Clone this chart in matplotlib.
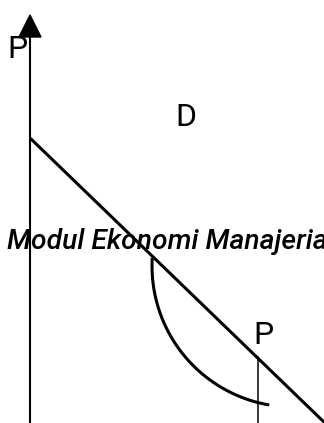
import numpy as np
import matplotlib
matplotlib.use("Agg")
import matplotlib.pyplot as plt
from matplotlib.patches import Polygon

# Diagram geometry (pixel space of the 324x423 canvas, y downward)
axis_x = 29.5
axis_y = [37, 423]
arrow_tip = [30, 15]
arrow_half_width = 11
arrow_base_y = 37

demand_x = [30, 326]
demand_y = [138, 424]

arc_center = [293, 266]
arc_radius = 141
arc_angles_deg = [183.3, 99.7]

price_line_x = 257.5
price_line_y = [357, 423]

labels = ["P", "D", "P"]
label_x = [17.5, 186, 263]
label_y = [50, 118, 336]

caption = "Modul Ekonomi Manajerial"
caption_xy = [7, 249]

fig = plt.figure(figsize=(3.24, 4.23), dpi=100)
ax = fig.add_axes([0, 0, 1, 1])
ax.set_xlim(0, 324)
ax.set_ylim(423, 0)
ax.axis("off")

# vertical axis with arrow
ax.plot([axis_x, axis_x], axis_y, color="black", lw=1.5, solid_capstyle="butt")
head = Polygon([[arrow_tip[0], arrow_tip[1]],
                [arrow_tip[0] - arrow_half_width, arrow_base_y],
                [arrow_tip[0] + arrow_half_width, arrow_base_y]],
               closed=True, color="black")
ax.add_patch(head)

# demand line
ax.plot(demand_x, demand_y, color="black", lw=2.2, solid_capstyle="butt")

# curved arc
t = np.radians(np.linspace(arc_angles_deg[0], arc_angles_deg[1], 200))
ax.plot(arc_center[0] + arc_radius * np.cos(t),
        arc_center[1] + arc_radius * np.sin(t),
        color="black", lw=2.2, solid_capstyle="butt")

# price vertical line
ax.plot([price_line_x, price_line_x], price_line_y, color="black", lw=1.1)

for s, x, y in zip(labels, label_x, label_y):
    ax.text(x, y, s, fontsize=23, family="Roboto", ha="center", va="center",
            color="black")

ax.text(caption_xy[0], caption_xy[1], caption, fontsize=20.3, family="Roboto",
        style="italic", fontweight="medium", ha="left", va="baseline",
        color="black")

fig.savefig("out.png", dpi=100)
